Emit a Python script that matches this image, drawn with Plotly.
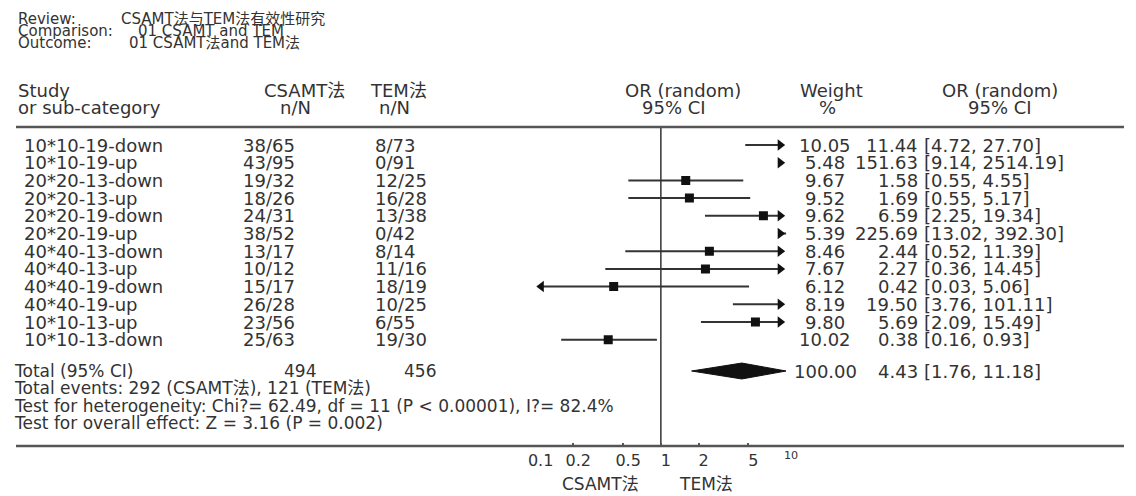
import plotly.graph_objects as go

# ---------------- data ----------------
STUDIES = ["10*10-19-down", "10*10-19-up", "20*20-13-down", "20*20-13-up",
           "20*20-19-down", "20*20-19-up", "40*40-13-down", "40*40-13-up",
           "40*40-19-down", "40*40-19-up", "10*10-13-up", "10*10-13-down"]
CSAMT_NN = ["38/65", "43/95", "19/32", "18/26", "24/31", "38/52",
            "13/17", "10/12", "15/17", "26/28", "23/56", "25/63"]
TEM_NN = ["8/73", "0/91", "12/25", "16/28", "13/38", "0/42",
          "8/14", "11/16", "18/19", "10/25", "6/55", "19/30"]
WEIGHTS = [10.05, 5.48, 9.67, 9.52, 9.62, 5.39, 8.46, 7.67, 6.12, 8.19, 9.80, 10.02]
OR_EST = [11.44, 151.63, 1.58, 1.69, 6.59, 225.69, 2.44, 2.27, 0.42, 19.50, 5.69, 0.38]
CI_LO = [4.72, 9.14, 0.55, 0.55, 2.25, 13.02, 0.52, 0.36, 0.03, 3.76, 2.09, 0.16]
CI_HI = [27.70, 2514.19, 4.55, 5.17, 19.34, 392.30, 11.39, 14.45, 5.06, 101.11, 15.49, 0.93]

TOTAL_N = [494, 456]
TOTAL_EVENTS = [292, 121]
TOTAL_WEIGHT = 100.00
TOTAL_OR = 4.43
TOTAL_LO = 1.76
TOTAL_HI = 11.18
CHI2 = 62.49
DF = 11
I2 = 82.4
Z = 3.16
P_OVERALL = "0.002"

TICK_VALS = [0.1, 0.2, 0.5, 1, 2, 5, 10]
TICK_TEXT = ["0.1", "0.2", "0.5", "1", "2", "5", "<sup>10</sup>"]

# ---------------- layout constants ----------------
OFF = 8                                  # page body margin
W, H = 1136 - OFF, 496 - OFF             # figure size that fits the window
ROW0_PX, ROW_PX = 145.0, 17.7            # window-pixel centre of first row, row pitch
X_MIN, X_MAX = 0.1, 10                   # plotted OR range
ARROW_LO, ARROW_HI = 0.111, 8.97         # arrow head centres at the clip edges
FONT = "DejaVu Sans, Noto Sans CJK SC, sans-serif"
TXT = "#333333"
INK = "#111111"


def row_of(px):
    return (px - ROW0_PX) / ROW_PX


def xp(px):
    return (px - OFF) / W


def yp(py):
    return 1 - (py - OFF) / H


TOTAL_ROW = row_of(371)
TOP_ROW = row_of(128)
AXIS_ROW = row_of(446)

fig = go.Figure()

# CI lines (clipped to plotted range)
lx, ly = [], []
for i, (lo, hi) in enumerate(zip(CI_LO, CI_HI)):
    a = ARROW_LO if lo < X_MIN else lo
    b = ARROW_HI if hi > X_MAX else hi
    lx += [a, b, None]
    ly += [i, i, None]
fig.add_trace(go.Scatter(x=lx, y=ly, mode="lines",
                         line=dict(color="#333333", width=2),
                         hoverinfo="skip", showlegend=False))

# point estimates inside range
px_, py_ = [], []
for i, v in enumerate(OR_EST):
    if X_MIN <= v <= X_MAX:
        px_.append(v)
        py_.append(i)
fig.add_trace(go.Scatter(x=px_, y=py_, mode="markers",
                         marker=dict(symbol="square", size=9, color=INK),
                         hoverinfo="skip", showlegend=False))

# arrows for clipped CIs
rx = [ARROW_HI for hi in CI_HI if hi > X_MAX]
ry = [i for i, hi in enumerate(CI_HI) if hi > X_MAX]
fig.add_trace(go.Scatter(x=rx, y=ry, mode="markers",
                         marker=dict(symbol="triangle-right", size=10, color=INK),
                         hoverinfo="skip", showlegend=False))
lxa = [ARROW_LO for lo in CI_LO if lo < X_MIN]
lya = [i for i, lo in enumerate(CI_LO) if lo < X_MIN]
fig.add_trace(go.Scatter(x=lxa, y=lya, mode="markers",
                         marker=dict(symbol="triangle-left", size=10, color=INK),
                         hoverinfo="skip", showlegend=False))

# vertical line of no effect
fig.add_trace(go.Scatter(x=[1, 1], y=[TOP_ROW, AXIS_ROW], mode="lines",
                         line=dict(color="#333333", width=1.5),
                         hoverinfo="skip", showlegend=False))

# pooled diamond
hi_c = min(TOTAL_HI, X_MAX)
dh = 0.45
fig.add_trace(go.Scatter(x=[TOTAL_LO, TOTAL_OR, hi_c, TOTAL_OR, TOTAL_LO],
                         y=[TOTAL_ROW, TOTAL_ROW - dh, TOTAL_ROW, TOTAL_ROW + dh, TOTAL_ROW],
                         mode="lines", fill="toself", fillcolor=INK,
                         line=dict(color=INK, width=1),
                         hoverinfo="skip", showlegend=False))

ann = []


def t(x, y, s, size, anchor="left", yref="paper", color=TXT):
    ann.append(dict(x=x, y=y, xref="paper", yref=yref, text=s, showarrow=False,
                    xanchor=anchor, yanchor="middle", borderpad=0,
                    font=dict(family=FONT, size=size, color=color)))


# title block
TS = 15
t(xp(9), yp(19), "Review:", TS)
t(xp(114), yp(19), "CSAMT法与TEM法有效性研究", TS)
t(xp(9), yp(31), "Comparison:", TS)
t(xp(131), yp(31), "01 CSAMT and TEM", TS)
t(xp(9), yp(43), "Outcome:", TS)
t(xp(122), yp(43), "01 CSAMT法and TEM法", TS)

# column headers
HS = 18
t(xp(9), yp(90), "Study", HS)
t(xp(9), yp(107), "or sub-category", HS)
t(xp(302), yp(90), "CSAMT法", HS, "center")
t(xp(293), yp(107), "n/N", HS, "center")
t(xp(397), yp(90), "TEM法", HS, "center")
t(xp(393), yp(107), "n/N", HS, "center")
t(xp(687), yp(90), "OR (random)", HS, "center")
t(xp(678), yp(107), "95% CI", HS, "center")
t(xp(838), yp(90), "Weight", HS, "center")
t(xp(834), yp(107), "%", HS, "center")
t(xp(1010), yp(90), "OR (random)", HS, "center")
t(xp(1010), yp(107), "95% CI", HS, "center")

# study rows
RS = 18
for i in range(len(STUDIES)):
    t(xp(15), i, STUDIES[i], RS, "left", "y")
    t(xp(238), i, CSAMT_NN[i], RS, "left", "y")
    t(xp(372), i, TEM_NN[i], RS, "left", "y")
    t(xp(832), i, f"{WEIGHTS[i]:.2f}", RS, "center", "y")
    t(xp(927), i, f"{OR_EST[i]:.2f}", RS, "right", "y")
    t(xp(931), i, f"[{CI_LO[i]:.2f}, {CI_HI[i]:.2f}]", RS, "left", "y")

# totals
FS = 17
t(xp(5), TOTAL_ROW, "Total (95% CI)", FS, "left", "y")
t(xp(297), TOTAL_ROW, str(TOTAL_N[0]), FS, "center", "y")
t(xp(402), TOTAL_ROW, str(TOTAL_N[1]), FS, "left", "y")
t(xp(832), TOTAL_ROW, f"{TOTAL_WEIGHT:.2f}", RS, "center", "y")
t(xp(927), TOTAL_ROW, f"{TOTAL_OR:.2f}", RS, "right", "y")
t(xp(931), TOTAL_ROW, f"[{TOTAL_LO:.2f}, {TOTAL_HI:.2f}]", RS, "left", "y")
t(xp(5), row_of(388), f"Total events: {TOTAL_EVENTS[0]} (CSAMT法), {TOTAL_EVENTS[1]} (TEM法)", FS, "left", "y")
t(xp(5), row_of(406), f"Test for heterogeneity: Chi?= {CHI2:.2f}, df = {DF} (P < 0.00001), I?= {I2:.1f}%", FS, "left", "y")
t(xp(5), row_of(423), f"Test for overall effect: Z = {Z:.2f} (P = {P_OVERALL})", FS, "left", "y")

# axis captions
t(xp(603), yp(484), "CSAMT法", 17, "center")
t(xp(710), yp(484), "TEM法", 17, "center")

shapes = [
    dict(type="line", xref="paper", yref="paper", x0=0, x1=1, y0=yp(127), y1=yp(127),
         line=dict(color="#555555", width=2.5)),
    dict(type="line", xref="paper", yref="paper", x0=0, x1=1, y0=yp(446), y1=yp(446),
         line=dict(color="#555555", width=2.5)),
]

fig.update_layout(
    width=W, height=H, margin=dict(l=0, r=0, t=0, b=0),
    paper_bgcolor="white", plot_bgcolor="rgba(0,0,0,0)",
    showlegend=False, annotations=ann, shapes=shapes,
    xaxis=dict(type="log", range=[-1, 1], domain=[xp(537), xp(792)],
               anchor="free", position=yp(446), showgrid=False, zeroline=False,
               showline=False, tickmode="array", tickvals=TICK_VALS, ticktext=TICK_TEXT,
               ticks="inside", ticklen=3, tickwidth=2, tickcolor="#555555",
               ticklabelstandoff=3, ticklabelshift=5,
               tickfont=dict(family=FONT, size=16, color=TXT)),
    yaxis=dict(range=[row_of(OFF + H), row_of(OFF)], domain=[0, 1], visible=False,
               showgrid=False, zeroline=False),
)

fig.write_html("out.html")
